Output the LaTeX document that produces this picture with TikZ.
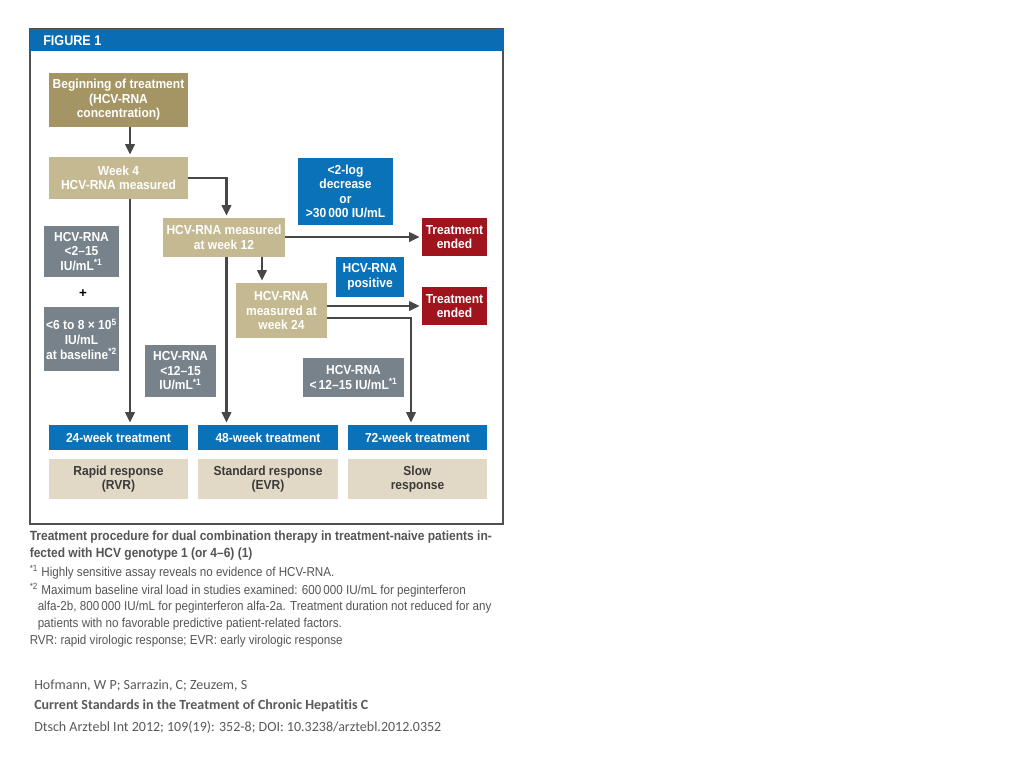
\documentclass[tikz,border=0pt]{standalone}
\usepackage{fontspec}
\setmainfont{Liberation Sans}
\newfontfamily\boxfont[FakeStretch=0.92]{Liberation Sans}
\newfontfamily\capfont[FakeStretch=0.9]{Liberation Sans}
\newfontfamily\citefont[Ligatures=NoCommon]{Carlito}
\usetikzlibrary{arrows.meta}
\definecolor{hdrblue}{HTML}{0A6DB3}
\definecolor{nodeblue}{HTML}{0A72B8}
\definecolor{golddark}{HTML}{A69564}
\definecolor{khaki}{HTML}{C5B991}
\definecolor{beige}{HTML}{E1D9C5}
\definecolor{beigetext}{HTML}{3A3A3A}
\definecolor{boxgray}{HTML}{78828B}
\definecolor{darkred}{HTML}{A0141E}
\definecolor{arrowgray}{HTML}{474747}
\definecolor{framegray}{HTML}{505050}
\definecolor{captext}{HTML}{555555}
\definecolor{citetext}{HTML}{5A5A5A}
\begin{document}
\begin{tikzpicture}[x=0.75pt,y=-0.75pt,
  fbox/.style={draw=none, inner sep=0pt, align=center, text=white,
    font=\boxfont\bfseries\fontsize{9.8}{10.9}\selectfont},
  gold/.style={fbox, fill=golddark},
  khakibox/.style={fbox, fill=khaki},
  bluebox/.style={fbox, fill=nodeblue},
  graybox/.style={fbox, fill=boxgray},
  redbox/.style={fbox, fill=darkred},
  beigebox/.style={fbox, fill=beige, text=beigetext},
  arr/.style={draw=arrowgray, line width=1.9pt, -{Triangle[length=8pt,width=7pt]}, shorten >=1.5pt},
  capbold/.style={anchor=west, inner sep=0pt, text=captext, font=\capfont\bfseries\fontsize{10}{11}\selectfont},
  capreg/.style={anchor=west, inner sep=0pt, text=captext, font=\capfont\fontsize{9.7}{11}\selectfont},
  cite/.style={anchor=west, inner sep=0pt, text=citetext, font=\citefont\fontsize{10.5}{12}\selectfont},
]
\useasboundingbox (0,0) rectangle (1024,768);
\fill[white] (0,0) rectangle (1024,768);

% frame and header
\draw[framegray, line width=0.9pt] (30,29) rectangle (503,524);
\fill[hdrblue] (29.5,29) rectangle (503.5,51);
\node[anchor=west, inner sep=0pt, text=white, font=\capfont\bfseries\fontsize{10.5}{12}\selectfont] (hdr) at (43,41) {FIGURE 1};

% nodes
\node[gold, minimum width=104.25pt, minimum height=40.5pt] (begin) at (118.5,100) {Beginning of treatment\\(HCV-RNA\\concentration)};
\node[khakibox, minimum width=104.25pt, minimum height=31.5pt] (week4) at (118.5,178) {Week 4\\HCV-RNA measured};
\node[khakibox, minimum width=91.5pt, minimum height=29.25pt] (week12) at (224,237.5) {HCV-RNA measured\\at week 12};
\node[bluebox, minimum width=71.25pt, minimum height=50.25pt] (log2) at (345.5,191.5) {<2-log\\decrease\\or\\>30\,000 IU/mL};
\node[redbox, minimum width=48.75pt, minimum height=28.5pt] (ended1) at (454.5,237) {Treatment\\ended};
\node[khakibox, minimum width=68.25pt, minimum height=41.25pt] (week24) at (281.5,310.5) {HCV-RNA\\measured at\\week 24};
\node[bluebox, minimum width=51pt, minimum height=30pt] (positive) at (370,277) {HCV-RNA\\positive};
\node[redbox, minimum width=48.75pt, minimum height=28.5pt] (ended2) at (454.5,306) {Treatment\\ended};
\node[graybox, minimum width=56.25pt, minimum height=38.25pt] (gray1) at (81.5,251.5) {HCV-RNA\\<2–15\\IU/mL\textsuperscript{*1}};
\node[inner sep=0pt, text=black, font=\bfseries\fontsize{10}{11}\selectfont] (plus) at (83,293.5) {+};
\node[graybox, minimum width=56.25pt, minimum height=48pt] (gray2) at (81.5,339) {<6 to 8 × 10\textsuperscript{5}\\IU/mL\\at baseline\textsuperscript{*2}};
\node[graybox, minimum width=53.25pt, minimum height=39pt] (gray3) at (180.5,371) {HCV-RNA\\<12–15\\IU/mL\textsuperscript{*1}};
\node[graybox, minimum width=75.75pt, minimum height=29.25pt] (gray4) at (353.5,377.5) {HCV-RNA\\<\,12–15 IU/mL\textsuperscript{*1}};
\node[bluebox, minimum width=104.25pt, minimum height=18.75pt] (wk24) at (118.5,437.5) {24-week treatment};
\node[bluebox, minimum width=105pt, minimum height=18.75pt] (wk48) at (268,437.5) {48-week treatment};
\node[bluebox, minimum width=104.25pt, minimum height=18.75pt] (wk72) at (417.5,437.5) {72-week treatment};
\node[beigebox, minimum width=104.25pt, minimum height=30pt] (rapid) at (118.5,479) {Rapid response\\(RVR)};
\node[beigebox, minimum width=105pt, minimum height=30pt] (standard) at (268,479) {Standard response\\(EVR)};
\node[beigebox, minimum width=104.25pt, minimum height=30pt] (slow) at (417.5,479) {Slow\\response};

% routing coordinates
\coordinate (xa) at (130,0);
\coordinate (xb) at (226.5,0);
\coordinate (xc) at (262,0);
\coordinate (bend) at (411,318);

% connectors
\draw[arr] (begin.south -| xa) -- (week4.north -| xa);
\draw[arr] (week4.east) -| (week12.north -| xb);
\draw[arr] (week4.south -| xa) -- (wk24.north -| xa);
\draw[arr] (week12.south -| xb) -- (wk48.north -| xb);
\draw[arr] (week12.south -| xc) -- (week24.north -| xc);
\draw[arr] (week12.east |- ended1.west) -- (ended1.west);
\draw[arr] (week24.east |- ended2.west) -- (ended2.west);
\draw[arr] (week24.east |- bend) -| (wk72.north -| bend);

% caption
\node[capbold] (cap1) at (29.5,537) {Treatment procedure for dual combination therapy in treatment-naive patients in-};
\node[capbold] (cap2) at (29.5,554) {fected with HCV genotype 1 (or 4–6) (1)};
\node[capreg] (cap3) at (29.5,572) {\textsuperscript{*1} Highly sensitive assay reveals no evidence of HCV-RNA.};
\node[capreg] (cap4) at (29.5,590) {\textsuperscript{*2} Maximum baseline viral load in studies examined: 600\,000 IU/mL for peginterferon};
\node[capreg] (cap5) at (37.5,607) {alfa-2b, 800\,000 IU/mL for peginterferon alfa-2a. Treatment duration not reduced for any};
\node[capreg] (cap6) at (37.5,624) {patients with no favorable predictive patient-related factors.};
\node[capreg] (cap7) at (29.5,641) {RVR: rapid virologic response; EVR: early virologic response};

% citation
\node[cite] (cite1) at (34,686) {Hofmann, W P; Sarrazin, C; Zeuzem, S};
\node[cite] (cite2) at (34,706) {\bfseries Current Standards in the Treatment of Chronic Hepatitis C};
\node[cite] (cite3) at (34,727) {Dtsch Arztebl Int 2012; 109(19): 352-8; DOI: 10.3238/arztebl.2012.0352};
\end{tikzpicture}
\end{document}
